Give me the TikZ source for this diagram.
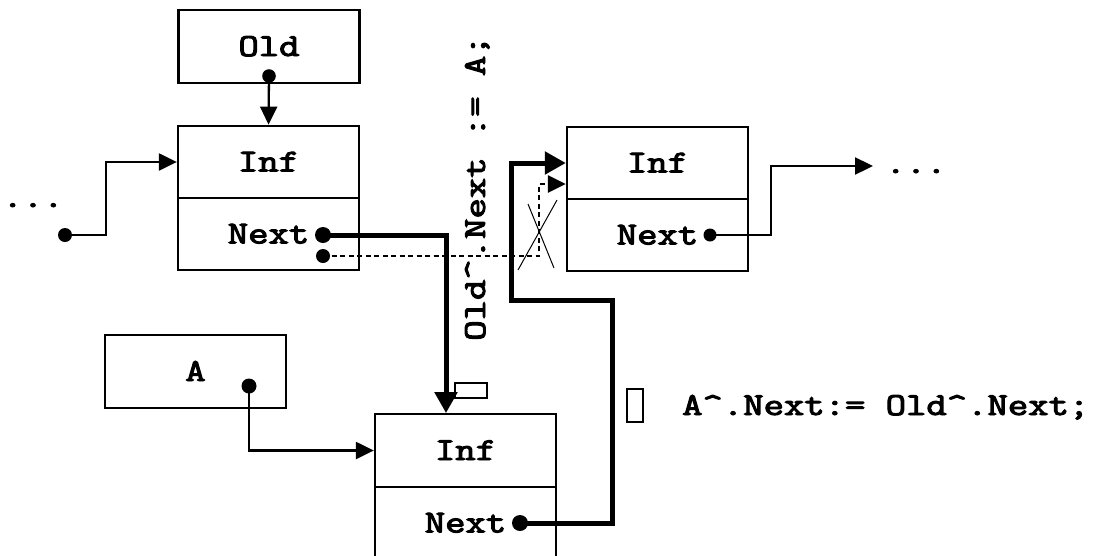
\documentclass[tikz,border=0pt]{standalone}
\usepackage{fontspec}
\newfontfamily\courlm{Latin Modern Mono}[FakeBold=3]
\usetikzlibrary{arrows.meta,calc}
\newcommand\cw[1]{\scalebox{1.235}[1]{#1}}
\begin{document}
\begin{tikzpicture}[x=1pt,y=-1pt,
  cell/.style={draw,line width=2.3pt,minimum width=181pt,minimum height=72.5pt,inner sep=0pt,
    font=\courlm\fontsize{32}{38}\selectfont,text height=19pt,text depth=0pt},
  lbl/.style={inner sep=0pt,font=\courlm\fontsize{32}{38}\selectfont},
  thin/.style={line width=2.3pt,-{Triangle[length=18pt,width=17pt]}},
  thick/.style={line width=5pt,-{Triangle[length=21pt,width=22pt]}},
  dashedline/.style={line width=2.5pt,dash pattern=on 5pt off 3.5pt,-{Triangle[length=18pt,width=17pt]}},
  bigdot/.style={fill=black,draw=none},
  glyphbox/.style={draw,line width=2pt,inner sep=0pt}
]
\useasboundingbox (0,0) rectangle (1098,555);
\clip (0,0) rectangle (1098,555);

% boxes
\node[cell] (old)  at (269,46.5)  {\cw{Old}};
\node[cell] (inf1) at (268.5,162) {\cw{Inf}};
\node[cell] (next1) at (268.5,234) {\cw{Next}};
\node[cell] (inf2) at (657.5,163) {\cw{Inf}};
\node[cell] (next2) at (657.5,235) {\cw{Next}};
\node[cell] (abox) at (195.5,371.5) {\cw{A}};
\node[cell] (inf3) at (465.5,450.5) {\cw{Inf}};
\node[cell] (next3) at (465.5,523) {\cw{Next}};

% dots
\coordinate (olddot) at (269,76);
\coordinate (n1dot) at (323,235);
\coordinate (d1dot) at (323,256);
\coordinate (n2dot) at (710,235);
\coordinate (adot) at (249,386);
\coordinate (n3dot) at (520,523);
\coordinate (ldot) at (65,235);

% bends
\coordinate (b5) at (106,235);
\coordinate (bt) at (446,235);
\coordinate (b1) at (612,300);
\coordinate (b2) at (511,300);
\coordinate (b3) at (539,184);
\coordinate (b4) at (771,166);
\coordinate (e2) at (873,166);

% dots text
\node[lbl,anchor=base] (dotsl) at (33,207) {\cw{...}};
\node[lbl,anchor=base] (dotsr) at (916,173) {\cw{...}};

% connectors
\draw[thin] (olddot) -- (inf1.north);
\draw[thin] (ldot) -- (b5) |- (inf1.west);
\draw[thin] (adot) |- (inf3.west);
\draw[thin] (n2dot) -| (b4) -- (e2);
\draw[thick] (n1dot) -| (bt |- inf3.north);
\draw[thick] (n3dot) -| (b1) -- (b2) |- (inf2.west);
\draw[dashedline] (d1dot) -| (b3) -- (b3 -| inf2.west);

% cross
\coordinate (x1a) at (528,204); \coordinate (x1b) at (554,268);
\coordinate (x2a) at (557,200); \coordinate (x2b) at (518,270);
\draw[line width=1pt] (x1a) -- (x1b);
\draw[line width=1pt] (x2a) -- (x2b);

% dot circles
\fill[bigdot] (olddot) circle (6.8pt);
\fill[bigdot] (n1dot) circle (8pt);
\fill[bigdot] (d1dot) circle (7pt);
\fill[bigdot] (n2dot) circle (6.5pt);
\fill[bigdot] (adot) circle (7.5pt);
\fill[bigdot] (n3dot) circle (8pt);
\fill[bigdot] (ldot) circle (7pt);

% code texts
\node[lbl,anchor=base,rotate=90] (code1) at (485,188) {\cw{Old\^{}.Next := A;}};
\node[lbl,anchor=base west] (code2) at (682,415) {\cw{A\^{}.Next:= Old\^{}.Next;}};

% missing-glyph boxes
\node[glyphbox,minimum width=32pt,minimum height=15pt] (gb1) at (471,390.5) {};
\node[glyphbox,minimum width=16pt,minimum height=33pt] (gb2) at (635,405.5) {};
\end{tikzpicture}
\end{document}
